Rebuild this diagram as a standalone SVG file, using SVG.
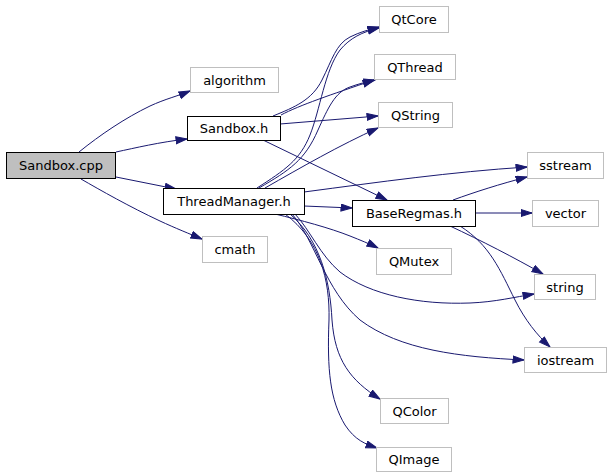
<svg xmlns="http://www.w3.org/2000/svg" width="611" height="475" viewBox="0 0 611 475">
<defs>
<marker id="ah" markerWidth="13" markerHeight="10" refX="11.5" refY="4" orient="auto" markerUnits="userSpaceOnUse">
<path d="M0.5,0.5 L11.5,4 L0.5,7.5 z" fill="#191970" stroke="#191970" stroke-width="1"/>
</marker>
<style>
.n rect{fill:#fff;stroke:#bfbfbf;stroke-width:1}
.n.b rect{stroke:#000}
.n.r rect{fill:#bfbfbf;stroke:#000}
.n text{font-family:"DejaVu Sans",sans-serif;font-size:13px;fill:#000;text-anchor:middle}
#edges path{fill:none;stroke:#191970;stroke-width:1;marker-end:url(#ah)}
</style>
</defs>
<rect width="611" height="475" fill="#fff"/>
<g id="edges">
<path d="M79,152 C100,135 125,118 150,106 C165,99 178,96 190,91"/>
<path d="M116,152 C135,148 160,142 187,139"/>
<path d="M116,177 L176,189"/>
<path d="M81,179 C100,190 130,207 160,221 C175,228 190,234 202,239"/>
<path d="M273,116 C295,107 312,100 322,80 C332,60 336,44 350,37 C360,32 368,30 379,27"/>
<path d="M281,115 C300,105 330,95 374,80"/>
<path d="M280,124 L378,116"/>
<path d="M263,140 L387,200"/>
<path d="M257,188 C285,170 300,160 310,135 C320,110 325,70 340,50 C350,38 362,32 379,28"/>
<path d="M259,188 C290,170 305,160 318,130 C328,108 335,92 350,87 C358,84 366,82 375,80"/>
<path d="M265,188 C300,168 340,145 378,128"/>
<path d="M304,192 C380,182 450,172 527,167"/>
<path d="M304,206 L352,208"/>
<path d="M453,200 C475,192 500,184 527,177"/>
<path d="M475,213 L532,213"/>
<path d="M450,226 C480,240 515,258 543,274"/>
<path d="M460,226 C490,245 500,270 515,300 C525,320 537,335 550,347"/>
<path d="M275,214 C300,220 330,228 350,236 C360,240 370,244 378,248"/>
<path d="M295,214 C310,230 320,255 340,272 C370,295 420,305 470,303 C495,302 515,297 534,294"/>
<path d="M292,214 C315,240 325,290 360,320 C400,350 460,357 524,360"/>
<path d="M290,214 C320,240 330,280 332,320 C335,360 350,380 380,399"/>
<path d="M285,214 C320,240 330,280 329,320 C327,370 330,400 345,425 C355,440 365,444 377,448"/>
</g>
<g id="n_sandbox_cpp" class="n r"><rect x="6.5" y="152.5" width="109" height="26"/><text x="61" y="170">Sandbox.cpp</text></g>
<g id="n_algorithm" class="n"><rect x="190.5" y="67.5" width="88" height="25"/><text x="234.5" y="84.5">algorithm</text></g>
<g id="n_sandbox_h" class="n b"><rect x="187.5" y="116.5" width="93" height="24"/><text x="234" y="133">Sandbox.h</text></g>
<g id="n_threadmanager_h" class="n b"><rect x="163.5" y="188.5" width="141" height="26"/><text x="234" y="206">ThreadManager.h</text></g>
<g id="n_cmath" class="n"><rect x="202.5" y="236.5" width="65" height="26"/><text x="235" y="254">cmath</text></g>
<g id="n_qtcore" class="n"><rect x="379.5" y="6.5" width="69" height="26"/><text x="414" y="24">QtCore</text></g>
<g id="n_qthread" class="n"><rect x="374.5" y="54.5" width="81" height="25"/><text x="415" y="71.5">QThread</text></g>
<g id="n_qstring" class="n"><rect x="378.5" y="102.5" width="74" height="25"/><text x="415.5" y="119.5">QString</text></g>
<g id="n_sstream" class="n"><rect x="527.5" y="152.5" width="76" height="26"/><text x="565.5" y="170">sstream</text></g>
<g id="n_baseregmas_h" class="n b"><rect x="352.5" y="200.5" width="123" height="26"/><text x="414" y="218">BaseRegmas.h</text></g>
<g id="n_vector" class="n"><rect x="532.5" y="200.5" width="66" height="26"/><text x="565.5" y="218">vector</text></g>
<g id="n_qmutex" class="n"><rect x="376.5" y="248.5" width="75" height="26"/><text x="414" y="266">QMutex</text></g>
<g id="n_string" class="n"><rect x="534.5" y="274.5" width="61" height="25"/><text x="565" y="291.5">string</text></g>
<g id="n_iostream" class="n"><rect x="524.5" y="347.5" width="82" height="25"/><text x="565.5" y="364.5">iostream</text></g>
<g id="n_qcolor" class="n"><rect x="380.5" y="398.5" width="68" height="25"/><text x="414.5" y="415.5">QColor</text></g>
<g id="n_qimage" class="n"><rect x="376.5" y="447.5" width="75" height="24"/><text x="414" y="464">QImage</text></g>
</svg>
